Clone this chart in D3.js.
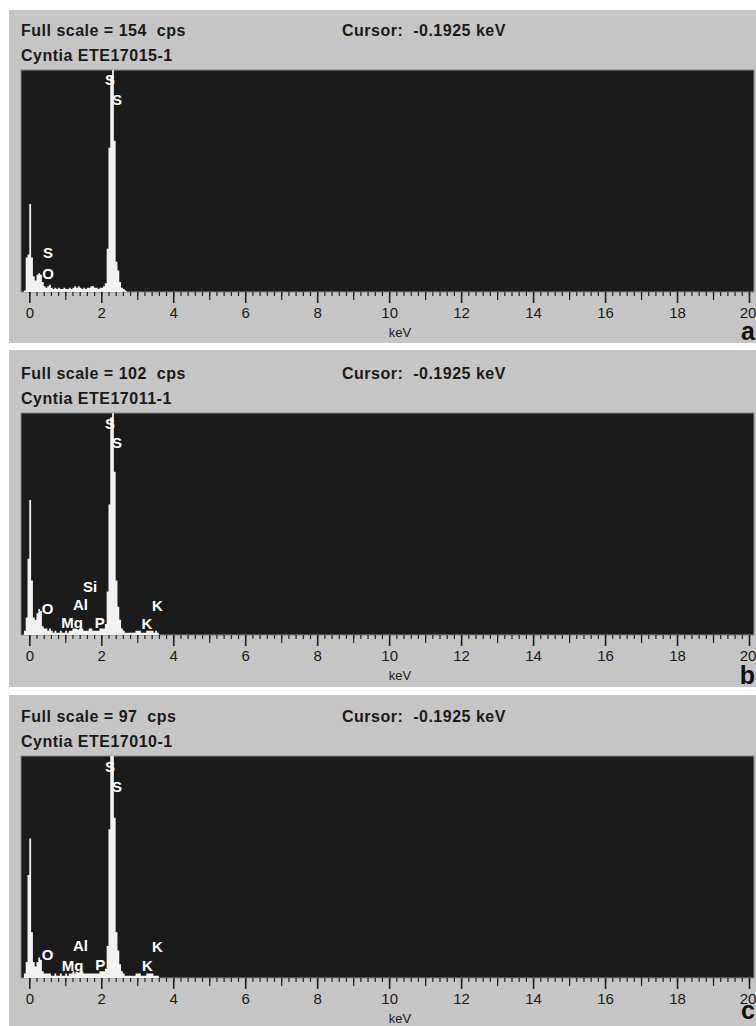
<!DOCTYPE html>
<html>
<head>
<meta charset="utf-8">
<script src="https://cdn.jsdelivr.net/npm/d3@7"></script>
<style>
  body { margin: 0; background: #fff; }
  text { font-family: "Liberation Sans", Arial, sans-serif; white-space: pre; }
</style>
</head>
<body>
<div id="chart"></div>
<script>
var svgWidth = 756;
var svgHeight = 1026;

// spectra: counts per 0.05 keV channel, starting at -0.20 keV
var kevStart = -0.2;
var kevStep = 0.05;

var countsA = [
  0, 1, 24, 26, 61, 24, 11, 8, 12, 13, 12, 7, 4, 3, 4, 5, 3, 2,
  3, 2, 3, 2, 2, 3, 2, 2, 3, 2, 3, 4, 3, 4, 3, 2, 3, 2, 3, 3, 4, 4,
  3, 3, 2, 3, 3, 4, 6, 30, 100, 150, 160, 105, 21, 15, 7, 3, 2, 1,
  0, 0, 0, 0, 0, 0, 0, 0, 0, 0, 0, 0, 0, 0, 0, 0, 0, 0, 0
];
var countsB = [
  0, 2, 8, 35, 62, 25, 8, 7, 10, 12, 11, 4, 3, 3, 2, 3, 2, 1,
  2, 1, 1, 2, 1, 1, 2, 1, 2, 2, 3, 3, 2, 2, 3, 3, 2, 2, 2, 3, 3, 2,
  2, 2, 2, 3, 3, 3, 5, 20, 60, 100, 106, 75, 25, 13, 7, 3, 2, 1,
  1, 1, 1, 1, 1, 2, 2, 2, 1, 1, 1, 2, 2, 2, 2, 1, 2, 1, 0
];
var countsC = [
  0, 2, 7, 45, 61, 20, 7, 5, 7, 9, 8, 3, 2, 2, 2, 2, 1, 1,
  2, 1, 1, 2, 1, 1, 2, 1, 2, 2, 3, 2, 2, 2, 3, 3, 2, 2, 2, 2, 2, 2,
  2, 2, 2, 3, 3, 3, 4, 14, 65, 97, 100, 70, 20, 12, 6, 3, 2, 1,
  1, 1, 1, 1, 1, 2, 2, 2, 1, 1, 1, 2, 2, 2, 2, 1, 1, 1, 0
];

var fullScales = [154, 102, 97];
var sampleNames = ["Cyntia ETE17015-1", "Cyntia ETE17011-1", "Cyntia ETE17010-1"];
var cursorText = "Cursor:  -0.1925 keV";
var panelLetters = ["a", "b", "c"];

// element markers: label, line energy (keV)
var labelsA = [["S", 2.24], ["S", 2.44], ["S", 0.52], ["O", 0.52]];
var labelsB = [["S", 2.24], ["S", 2.44], ["Si", 1.69], ["Al", 1.42], ["O", 0.51],
  ["Mg", 1.19], ["P", 1.96], ["K", 3.27], ["K", 3.56]];
var labelsC = [["S", 2.24], ["S", 2.44], ["O", 0.51], ["Al", 1.42],
  ["Mg", 1.2], ["P", 1.97], ["K", 3.28], ["K", 3.56]];

var majorTicks = [0, 2, 4, 6, 8, 10, 12, 14, 16, 18, 20];
var midTicks = [1, 3, 5, 7, 9, 11, 13, 15, 17, 19];

// layout
var bgTop = [10, 350, 695];
var bgBottom = [343, 687, 1026];
var contentTop = [10, 353, 696];
var letterBase = [340, 684, 1019];
var labelRows = [
  [70, 90, 243, 264],
  [71, 90, 234, 252, 256, 270, 270, 271, 253],
  [71, 91, 259, 250, 270, 269, 270, 251]
];

var svg = d3.select("#chart").append("svg")
  .attr("width", svgWidth)
  .attr("height", svgHeight);

var xScale = d3.scaleLinear().domain([0, 20]).range([29.3, 749]);
var plotLeft = 21;
var plotRight = 754;

var allCounts = [countsA, countsB, countsC];
var allLabels = [labelsA, labelsB, labelsC];

allCounts.forEach(function(counts, p) {
  var top = contentTop[p];
  var plotTop = top + 60;
  var plotBottom = top + 282;
  var g = svg.append("g");

  g.append("rect")
    .attr("x", 9)
    .attr("y", bgTop[p])
    .attr("width", svgWidth - 9)
    .attr("height", bgBottom[p] - bgTop[p])
    .attr("fill", "#c5c5c5");

  g.append("text")
    .attr("x", 21)
    .attr("y", top + 26)
    .attr("font-size", 16)
    .attr("font-weight", "bold")
    .attr("letter-spacing", 0.5)
    .attr("fill", "#1a1a1a")
    .text("Full scale = " + fullScales[p] + "  cps");

  g.append("text")
    .attr("x", 342)
    .attr("y", top + 26)
    .attr("font-size", 16)
    .attr("font-weight", "bold")
    .attr("letter-spacing", 0.5)
    .attr("fill", "#1a1a1a")
    .text(cursorText);

  g.append("text")
    .attr("x", 21)
    .attr("y", top + 51)
    .attr("font-size", 16)
    .attr("font-weight", "bold")
    .attr("letter-spacing", 0.5)
    .attr("fill", "#1a1a1a")
    .text(sampleNames[p]);

  // plot area
  g.append("rect")
    .attr("x", plotLeft)
    .attr("y", plotTop)
    .attr("width", plotRight - plotLeft)
    .attr("height", plotBottom - plotTop)
    .attr("fill", "#1b1b1b")
    .attr("stroke", "#8a8a8a")
    .attr("stroke-width", 1);

  var clipId = "clip" + p;
  svg.append("clipPath").attr("id", clipId)
    .append("rect")
    .attr("x", plotLeft)
    .attr("y", plotTop)
    .attr("width", plotRight - plotLeft)
    .attr("height", plotBottom - plotTop);

  var yScale = d3.scaleLinear()
    .domain([0, fullScales[p]])
    .range([plotBottom, plotTop])
    .clamp(true);

  var spectrum = counts.map(function(c, i) {
    return { e: kevStart + i * kevStep, c: c };
  });
  spectrum.push({ e: kevStart + counts.length * kevStep, c: 0 });

  var area = d3.area()
    .curve(d3.curveStepAfter)
    .x(d => xScale(d.e))
    .y0(plotBottom)
    .y1(d => yScale(d.c));

  g.append("path")
    .datum(spectrum)
    .attr("clip-path", "url(#" + clipId + ")")
    .attr("d", area)
    .attr("fill", "#f2f2f2");

  // element labels
  allLabels[p].forEach(function(lb, j) {
    g.append("text")
      .attr("x", xScale(lb[1]))
      .attr("y", top + labelRows[p][j])
      .attr("dy", "0.36em")
      .attr("text-anchor", "middle")
      .attr("font-size", 15)
      .attr("font-weight", "bold")
      .attr("fill", "#ffffff")
      .text(lb[0]);
  });

  // axis ticks
  var minorAxis = d3.axisBottom(xScale)
    .tickValues(d3.range(0, 101).map(k => k * 0.2))
    .tickSize(4)
    .tickFormat("");
  var midAxis = d3.axisBottom(xScale)
    .tickValues(midTicks)
    .tickSize(8)
    .tickFormat("");
  var majorAxis = d3.axisBottom(xScale)
    .tickValues(majorTicks)
    .tickSize(11)
    .tickPadding(4)
    .tickFormat(d3.format("d"));

  [minorAxis, midAxis, majorAxis].forEach(function(ax, k) {
    var axG = g.append("g")
      .attr("transform", `translate(0, ${plotBottom})`)
      .call(ax);
    axG.select(".domain").remove();
    axG.selectAll("line")
      .attr("stroke", "#222")
      .attr("stroke-width", k === 2 ? 1.6 : 1.2);
    axG.selectAll("text")
      .attr("font-size", 15)
      .attr("font-family", "Liberation Sans, Arial, sans-serif")
      .attr("fill", "#1a1a1a")
      .attr("dx", d => (d === 20 ? -1.5 : 0));
  });

  g.append("text")
    .attr("x", 400)
    .attr("y", top + 327)
    .attr("text-anchor", "middle")
    .attr("font-size", 13)
    .attr("fill", "#1a1a1a")
    .text("keV");

  g.append("text")
    .attr("x", 755)
    .attr("y", letterBase[p])
    .attr("text-anchor", "end")
    .attr("font-size", 25)
    .attr("font-weight", "bold")
    .attr("fill", "#111")
    .text(panelLetters[p]);
});
</script>
</body>
</html>
